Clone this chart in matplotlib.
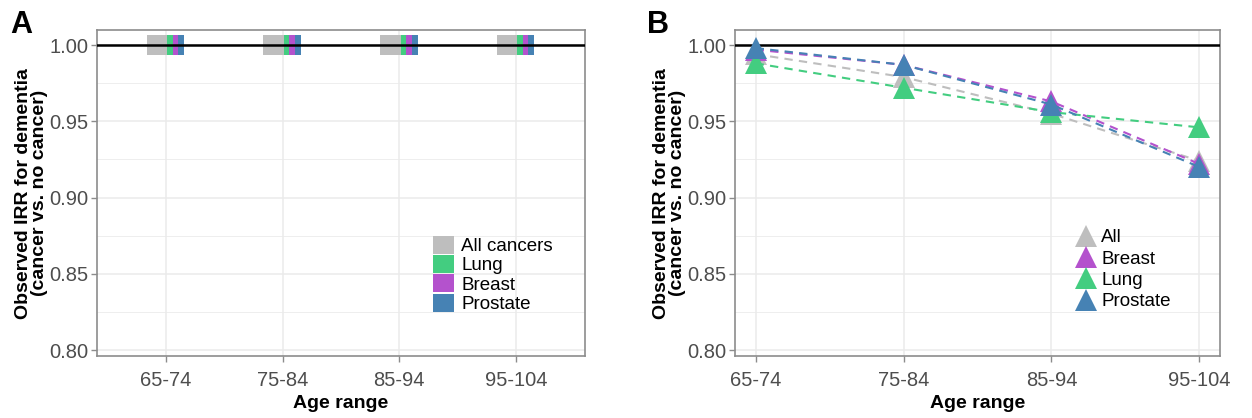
import matplotlib
matplotlib.use("Agg")
import matplotlib.pyplot as plt
import matplotlib.patches as mpatches
from matplotlib.lines import Line2D
import numpy as np

plt.rcParams['font.family'] = ['Liberation Sans', 'DejaVu Sans']

# Dados
faixas = ["65-74", "75-84", "85-94", "95-104"]

# Painel A: caixas em torno de 1.00
grupos_a = ["All cancers", "Lung", "Breast", "Prostate"]
cores_a = ["#BEBEBE", "#43CD80", "#B452CD", "#4682B4"]
a_inf = [0.9935, 0.9935, 0.9935, 0.9935]
a_sup = [1.0065, 1.0065, 1.0065, 1.0065]

# Painel B: IRR observado por faixa
irr_all = [0.994, 0.979, 0.955, 0.924]
irr_breast = [0.997, 0.987, 0.963, 0.922]
irr_lung = [0.988, 0.972, 0.956, 0.946]
irr_prostate = [0.998, 0.987, 0.961, 0.920]

cinza_texto = "#4D4D4D"
cor_grade = "#EBEBEB"
cor_borda = "#8C8C8C"


def estilo(ax):
    ax.set_ylim(0.796, 1.0098)
    ax.set_yticks([0.80, 0.85, 0.90, 0.95, 1.00])
    ax.set_yticklabels(["0.80", "0.85", "0.90", "0.95", "1.00"])
    ax.set_yticks([0.825, 0.875, 0.925, 0.975], minor=True)
    ax.grid(True, which="major", color=cor_grade, linewidth=1.1)
    ax.grid(True, which="minor", axis="y", color=cor_grade, linewidth=0.6)
    ax.set_axisbelow(True)
    for s in ax.spines.values():
        s.set_color(cor_borda)
        s.set_linewidth(1.2)
    ax.tick_params(axis="both", which="major", labelsize=14.5, colors=cor_borda,
                   labelcolor=cinza_texto, length=4, width=1, pad=2)
    ax.tick_params(axis="x", which="major", pad=7)
    ax.tick_params(axis="y", which="minor", length=0)
    ax.set_xlabel("Age range", fontsize=14, fontweight="bold", labelpad=3)
    ax.set_ylabel("Observed IRR for dementia\n(cancer vs. no cancer)", fontsize=14,
                  fontweight="bold", labelpad=1, linespacing=0.95)
    ax.axhline(1.0, color="black", linewidth=1.8, zorder=3)


fig = plt.figure(figsize=(12.52, 4.18), dpi=100)
axA = fig.add_axes([0.0775, 0.148, 0.3897, 0.780])
axB = fig.add_axes([0.587, 0.148, 0.3875, 0.780])

# ---- Painel A ----
x = np.arange(len(faixas))
desloc = [(-0.165, 0.011), (0.011, 0.057), (0.057, 0.105), (0.105, 0.157)]
for g, (nome, cor) in enumerate(zip(grupos_a, cores_a)):
    e, d = desloc[g]
    for i in range(len(faixas)):
        axA.bar(x[i] + e, a_sup[i] - a_inf[i], width=d - e, bottom=a_inf[i],
                align="edge", color=cor, edgecolor="none", zorder=2)
axA.set_xticks(x)
axA.set_xticklabels(faixas)
axA.set_xlim(-0.59, 3.59)
estilo(axA)
hand_a = [mpatches.Patch(facecolor=c, edgecolor="none", label=n) for n, c in zip(grupos_a, cores_a)]
axA.legend(handles=hand_a, loc="upper left", bbox_to_anchor=(0.67, 0.398), frameon=False,
           fontsize=13.5, handlelength=1.1, handleheight=1.1, labelspacing=0.0,
           handletextpad=0.4, borderpad=0.0)
fig.text(0.008, 0.92, "A", fontsize=22, fontweight="bold")

# ---- Painel B ----
series_b = [("All", irr_all, "#BEBEBE"), ("Breast", irr_breast, "#B452CD"),
            ("Lung", irr_lung, "#43CD80"), ("Prostate", irr_prostate, "#4682B4")]
for nome, vals, cor in series_b:
    axB.plot(x, vals, linestyle=(0, (4, 3)), color=cor, linewidth=1.5,
             marker="^", markersize=16, markeredgewidth=0, label=nome, zorder=4)
axB.set_xticks(x)
axB.set_xticklabels(faixas)
axB.set_xlim(-0.14, 3.14)
estilo(axB)
hand_b = [Line2D([], [], linestyle="none", marker="^", markersize=16, markeredgewidth=0,
                 color=c, label=n) for n, _, c in series_b]
axB.legend(handles=hand_b, loc="upper left", bbox_to_anchor=(0.68, 0.418), frameon=False,
           fontsize=13.5, handlelength=1.3, labelspacing=0.22, handletextpad=0.15,
           borderpad=0.0)
fig.text(0.517, 0.92, "B", fontsize=22, fontweight="bold")

fig.savefig("out.png", dpi=100)
